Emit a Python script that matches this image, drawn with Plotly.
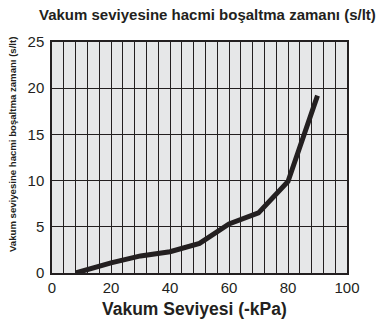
import plotly.graph_objects as go

# Evacuation time per litre at each vacuum level
vacuum_kpa = [8, 20, 30, 40, 50, 60, 70, 80, 90]
time_s_per_l = [0, 1.1, 1.85, 2.3, 3.2, 5.3, 6.5, 9.9, 19.2]

x_tick_vals = list(range(0, 101, 4))
x_tick_text = [str(v) if v % 20 == 0 else "" for v in x_tick_vals]
y_tick_vals = [0, 5, 10, 15, 20, 25]

ink = "#231f20"
font = "Liberation Sans, Arial, sans-serif"

fig = go.Figure()
fig.add_trace(go.Scatter(
    x=vacuum_kpa, y=time_s_per_l, mode="lines",
    line=dict(color=ink, width=5), hoverinfo="skip", showlegend=False,
))

fig.update_layout(
    width=385, height=328,
    margin=dict(l=52, r=38, t=42, b=55),
    paper_bgcolor="white", plot_bgcolor="#e6e7e8",
    font=dict(family=font, color=ink),
    xaxis=dict(
        range=[0, 100], tickvals=x_tick_vals, ticktext=x_tick_text,
        showgrid=True, gridcolor=ink, gridwidth=1,
        showline=True, linecolor=ink, linewidth=1.5, mirror=True,
        ticks="", tickfont=dict(size=15, color=ink), zeroline=False,
        ticklabelstandoff=0,
    ),
    yaxis=dict(
        range=[0, 25], tickvals=y_tick_vals,
        showgrid=True, gridcolor=ink, gridwidth=1,
        showline=True, linecolor=ink, linewidth=1.5, mirror=True,
        ticks="", tickfont=dict(size=15, color=ink), zeroline=False,
        ticklabelstandoff=3,
    ),
    annotations=[
        dict(text="<b>Vakum seviyesine hacmi boşaltma zamanı (s/lt)</b>",
             x=207, y=328 - 14, showarrow=False,
             font=dict(size=15, color=ink)),
        dict(text="<b>Vakum Seviyesi (-kPa)</b>",
             x=194, y=328 - 309, showarrow=False,
             font=dict(size=17.5, color=ink)),
        dict(text="<b>Vakum seviyesine hacmi boşaltma zamanı (s/lt)</b>",
             x=12, y=328 - 145, showarrow=False, textangle=-90,
             font=dict(size=9.6, color=ink)),
    ],
)

# Place annotations in pixel space by converting to paper coordinates
pw = 385 - 52 - 38
ph = 328 - 42 - 55
for ann in fig.layout.annotations:
    px, py = ann.x, ann.y
    ann.update(xref="paper", yref="paper",
               x=(px - 52) / pw, y=(py - 55) / ph,
               xanchor="center", yanchor="middle")

fig.write_html("out.html")
